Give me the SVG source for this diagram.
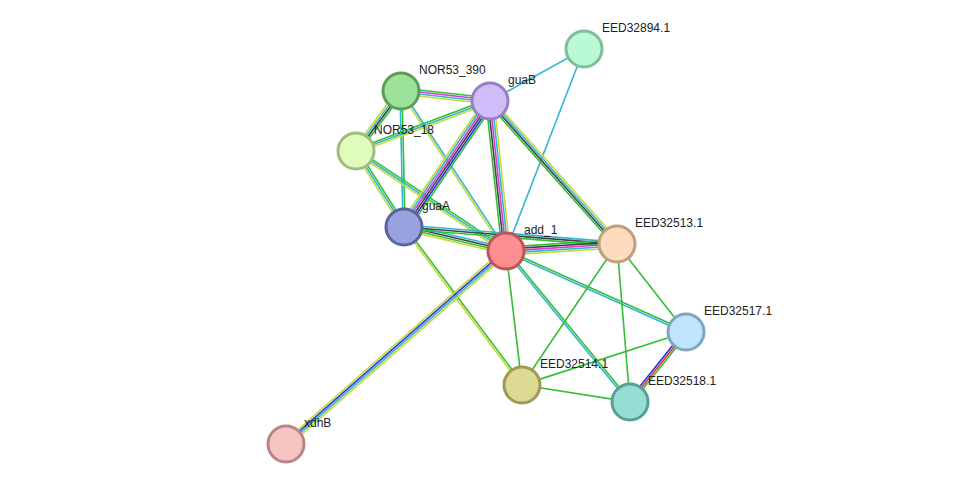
<svg xmlns="http://www.w3.org/2000/svg" width="976" height="490" viewBox="0 0 976 490">
<style>
line{stroke-width:1.6;fill:none}
.g{stroke:#33c033}.c{stroke:#33b5d5}.y{stroke:#c6d93a}.k{stroke:#444}.m{stroke:#d63bd6}.b{stroke:#3333e6}.r{stroke:#e03333}
circle{stroke-width:3}
text{font-family:"Liberation Sans",Arial,sans-serif;font-size:12px;fill:#222}
</style>
<rect width="976" height="490" fill="#fff"/>
<g id="connectors">
<g transform="translate(490,101) rotate(-28.9)"><line class="c" x2="107"/></g>
<g transform="translate(506,251) rotate(-68.9)"><line class="c" x2="216"/></g>
<g transform="translate(401,91) rotate(6.4)"><line class="g" y1="-3" y2="-3" x2="90"/><line class="m" y1="-1" y2="-1" x2="90"/><line class="c" y1="1" y2="1" x2="90"/><line class="y" y1="3" y2="3" x2="90"/></g>
<g transform="translate(401,91) rotate(126.9)"><line class="g" y1="-3" y2="-3" x2="75"/><line class="k" y1="-1" y2="-1" x2="75"/><line class="c" y1="1" y2="1" x2="75"/><line class="y" y1="3" y2="3" x2="75"/></g>
<g transform="translate(401,91) rotate(88.7)"><line class="g" y1="-1" y2="-1" x2="136"/><line class="c" y1="1" y2="1" x2="136"/></g>
<g transform="translate(401,91) rotate(56.7)"><line class="c" y1="-1" y2="-1" x2="191"/><line class="y" y1="1" y2="1" x2="191"/></g>
<g transform="translate(356,151) rotate(-20.5)"><line class="g" y1="-2" y2="-2" x2="143"/><line class="c" x2="143"/><line class="y" y1="2" y2="2" x2="143"/></g>
<g transform="translate(356,151) rotate(57.7)"><line class="g" y1="-2" y2="-2" x2="90"/><line class="c" x2="90"/><line class="y" y1="2" y2="2" x2="90"/></g>
<g transform="translate(356,151) rotate(33.7)"><line class="g" y1="-2" y2="-2" x2="180"/><line class="c" x2="180"/><line class="y" y1="2" y2="2" x2="180"/></g>
<g transform="translate(490,101) rotate(124.3)"><line class="g" y1="-5" y2="-5" x2="152"/><line class="b" y1="-3" y2="-3" x2="152"/><line class="k" y1="-1" y2="-1" x2="152"/><line class="m" y1="1" y2="1" x2="152"/><line class="c" y1="3" y2="3" x2="152"/><line class="y" y1="5" y2="5" x2="152"/></g>
<g transform="translate(490,101) rotate(83.9)"><line class="y" y1="-4" y2="-4" x2="151"/><line class="c" y1="-2" y2="-2" x2="151"/><line class="m" x2="151"/><line class="k" y1="2" y2="2" x2="151"/><line class="g" y1="4" y2="4" x2="151"/></g>
<g transform="translate(490,101) rotate(48.4)"><line class="y" y1="-3" y2="-3" x2="191"/><line class="c" y1="-1" y2="-1" x2="191"/><line class="k" y1="1" y2="1" x2="191"/><line class="g" y1="3" y2="3" x2="191"/></g>
<g transform="translate(404,227) rotate(13.2)"><line class="c" y1="-3" y2="-3" x2="105"/><line class="k" y1="-1" y2="-1" x2="105"/><line class="g" y1="1" y2="1" x2="105"/><line class="y" y1="3" y2="3" x2="105"/></g>
<g transform="translate(404,227) rotate(4.6)"><line class="c" y1="-2" y2="-2" x2="214"/><line class="k" x2="214"/><line class="g" y1="2" y2="2" x2="214"/></g>
<g transform="translate(404,227) rotate(53.2)"><line class="g" y1="-1" y2="-1" x2="197"/><line class="y" y1="1" y2="1" x2="197"/></g>
<g transform="translate(506,251) rotate(-3.6)"><line class="g" y1="-4" y2="-4" x2="111"/><line class="k" y1="-2" y2="-2" x2="111"/><line class="m" x2="111"/><line class="c" y1="2" y2="2" x2="111"/><line class="y" y1="4" y2="4" x2="111"/></g>
<g transform="translate(506,251) rotate(138.7)"><line class="y" y1="-3" y2="-3" x2="293"/><line class="c" y1="-1" y2="-1" x2="293"/><line class="b" y1="1" y2="1" x2="293"/><line class="y" y1="3" y2="3" x2="293"/></g>
<g transform="translate(506,251) rotate(24.2)"><line class="g" y1="-1" y2="-1" x2="197"/><line class="c" y1="1" y2="1" x2="197"/></g>
<g transform="translate(506,251) rotate(50.6)"><line class="g" y1="-1" y2="-1" x2="195"/><line class="c" y1="1" y2="1" x2="195"/></g>
<g transform="translate(506,251) rotate(83.2)"><line class="g" x2="135"/></g>
<g transform="translate(617,244) rotate(124)"><line class="g" x2="170"/></g>
<g transform="translate(617,244) rotate(51.9)"><line class="g" x2="112"/></g>
<g transform="translate(617,244) rotate(85.3)"><line class="g" x2="158"/></g>
<g transform="translate(686,332) rotate(162.1)"><line class="g" x2="172"/></g>
<g transform="translate(686,332) rotate(128.7)"><line class="g" y1="-2" y2="-2" x2="90"/><line class="r" x2="90"/><line class="b" y1="2" y2="2" x2="90"/></g>
<g transform="translate(522,385) rotate(8.9)"><line class="g" x2="109"/></g>
</g>
<g id="EED32894.1"><circle cx="584" cy="49" r="18" fill="#b9f9d4" stroke="#7dbf98"/><text x="602" y="32">EED32894.1</text></g>
<g id="NOR53_390"><circle cx="401" cy="91" r="18" fill="#9de29a" stroke="#5b9e58"/><text x="419" y="74">NOR53_390</text></g>
<g id="guaB"><circle cx="490" cy="101" r="18" fill="#d2bdfc" stroke="#9580c2"/><text x="508" y="84">guaB</text></g>
<g id="NOR53_18"><circle cx="356" cy="151" r="18" fill="#e0fcbd" stroke="#a1bc7d"/><text x="374" y="134">NOR53_18</text></g>
<g id="guaA"><circle cx="404" cy="227" r="18" fill="#97a2df" stroke="#5a649f"/><text x="422" y="210">guaA</text></g>
<g id="add_1"><circle cx="506" cy="251" r="18" fill="#fc8f8f" stroke="#c05454"/><text x="524" y="234">add_1</text></g>
<g id="EED32513.1"><circle cx="617" cy="244" r="18" fill="#fddcbd" stroke="#bf9f7e"/><text x="635" y="227">EED32513.1</text></g>
<g id="EED32517.1"><circle cx="686" cy="332" r="18" fill="#bee5fc" stroke="#7fa6be"/><text x="704" y="315">EED32517.1</text></g>
<g id="EED32514.1"><circle cx="522" cy="385" r="18" fill="#dcda93" stroke="#9d9a55"/><text x="540" y="368">EED32514.1</text></g>
<g id="EED32518.1"><circle cx="630" cy="402" r="18" fill="#95ded4" stroke="#589f96"/><text x="648" y="385">EED32518.1</text></g>
<g id="xdhB"><circle cx="286" cy="444" r="18" fill="#f7c3c3" stroke="#b98585"/><text x="304" y="427">xdhB</text></g>
</svg>
